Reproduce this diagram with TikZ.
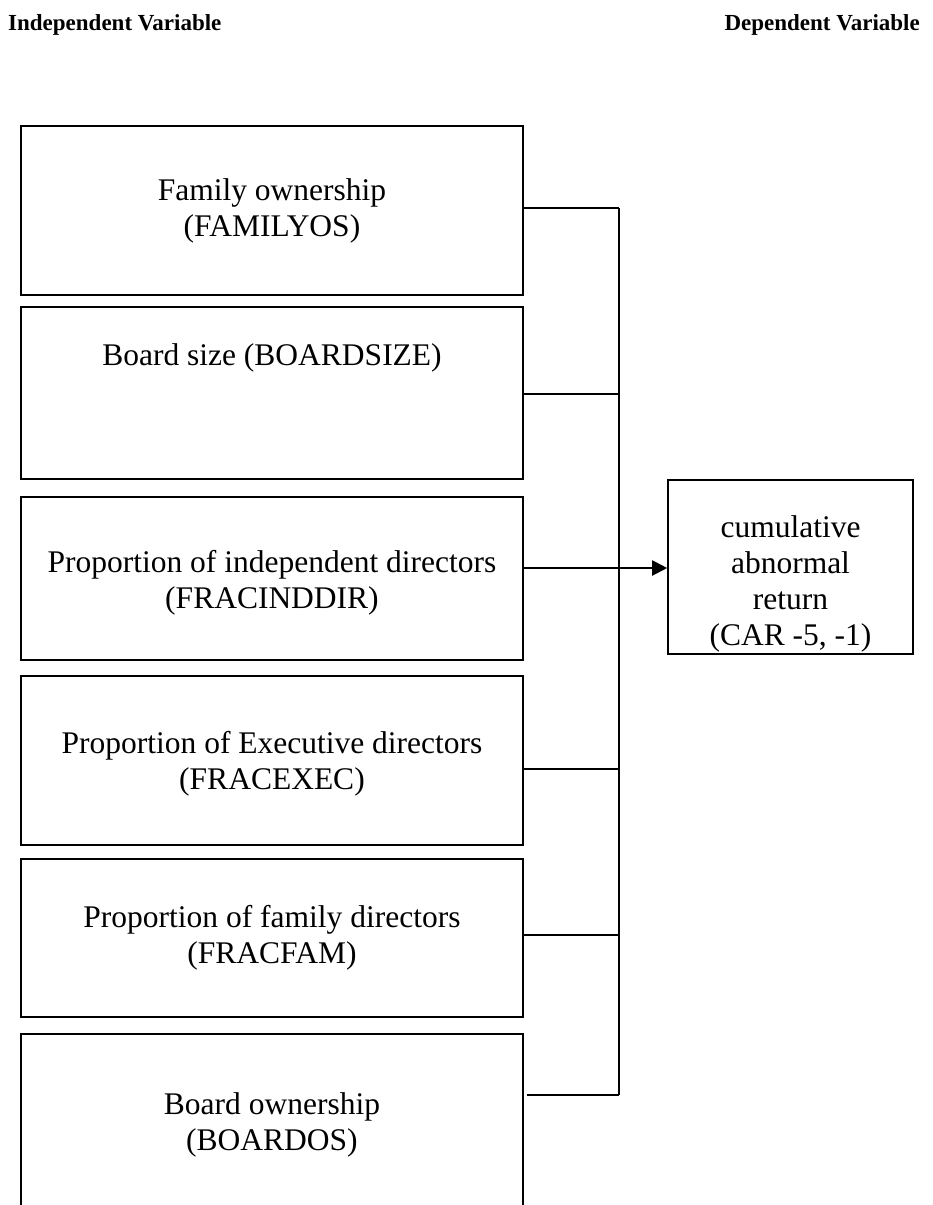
\documentclass[tikz,border=0pt]{standalone}
\usepackage{fontspec}
\setmainfont{Liberation Serif}
\usetikzlibrary{arrows.meta,calc}
\tikzset{
  box/.style={draw=black, line width=1.6pt, minimum width=502pt, align=center, inner sep=0pt,
    font=\fontsize{31.5pt}{36pt}\selectfont},
  txt/.style={inner sep=0pt, align=center, font=\fontsize{31.5pt}{36pt}\selectfont},
  ttl/.style={inner sep=0pt, font=\fontsize{23pt}{27pt}\selectfont\bfseries},
  conn/.style={draw=black, line width=1.5pt},
  arr/.style={draw=black, line width=2pt, -{Triangle[length=15pt,width=15pt]}}
}
\begin{document}
\begin{tikzpicture}[x=1pt,y=-1pt]
\useasboundingbox (0,0) rectangle (933,1205);
\clip (0,0) rectangle (933,1205);
\fill[white] (0,0) rectangle (933,1205);
% titles
\node[ttl, anchor=base west] (iv) at (8,30) {Independent Variable};
\node[ttl, anchor=base east] (dv) at (920,30) {Dependent Variable};
% boxes
\node[box, minimum height=169pt] (b1) at (272,210.5) {Family ownership\\(FAMILYOS)};
\node[box, minimum height=172pt] (b2) at (272,393) {};
\node[txt] (t2) at (272,358) {Board size (BOARDSIZE)};
\node[box, minimum height=163pt] (b3) at (272,578.5) {};
\node[txt] (t3) at (272,583) {Proportion of independent directors\\(FRACINDDIR)};
\node[box, minimum height=169pt] (b4) at (272,760.5) {};
\node[txt] (t4) at (272,764) {Proportion of Executive directors\\(FRACEXEC)};
\node[box, minimum height=158pt] (b5) at (272,938) {Proportion of family directors\\(FRACFAM)};
\node[box, minimum height=181pt] (b6) at (272,1124.5) {Board ownership\\(BOARDOS)};
% dependent box
\node[box, minimum width=245pt, minimum height=174pt] (car) at (790.5,567) {};
\node[txt] (carT) at (790.5,584) {cumulative\\abnormal\\return\\(CAR -5, -1)};
% connector coordinates
\coordinate (v1) at (619,208);
\coordinate (v2) at (619,394);
\coordinate (v3) at (619,568);
\coordinate (v4) at (619,769);
\coordinate (v5) at (619,935);
\coordinate (v6) at (619,1095);
\coordinate (s6) at (527,1095);
\draw[conn] (v1) -- (v6);
\draw[conn] (b1.east |- v1) -- (v1);
\draw[conn] (b2.east |- v2) -- (v2);
\draw[conn] (b3.east |- v3) -- (v3);
\draw[conn] (b4.east |- v4) -- (v4);
\draw[conn] (b5.east |- v5) -- (v5);
\draw[conn] (s6) -- (v6);
\draw[arr] (v3) -- (car.west |- v3);
\end{tikzpicture}
\end{document}
